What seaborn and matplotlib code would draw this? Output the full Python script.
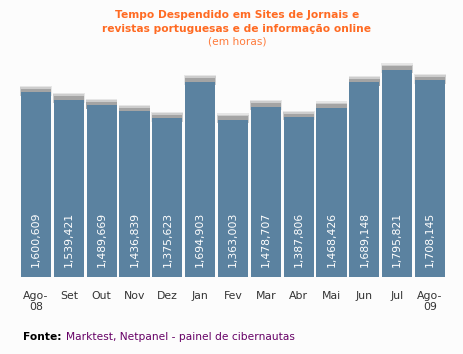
import matplotlib
matplotlib.use("Agg")
import matplotlib.pyplot as plt
import seaborn as sns
import pandas as pd
import numpy as np

# dados: tempo despendido (horas) por mes
meses = ["Ago-\n08", "Set", "Out", "Nov", "Dez", "Jan", "Fev", "Mar",
         "Abr", "Mai", "Jun", "Jul", "Ago-\n09"]
horas = [1600609, 1539421, 1489669, 1436839, 1375623, 1694903, 1363003,
         1478707, 1387806, 1468426, 1689148, 1795821, 1708145]

df = pd.DataFrame({"mes": meses, "horas": horas})

sns.set_style("white")
plt.rcParams['font.family'] = ['DejaVu Sans']

fig = plt.figure(figsize=(4.63, 3.54), dpi=100, facecolor="#fcfcfc")
ax = fig.add_axes([19.5 / 463, 77 / 354, 427 / 463, 217 / 354])
ax.set_facecolor("#fcfcfc")

# sombra cinzenta so no topo das barras (3 camadas, tipo degrade)
pos = np.arange(len(horas))
h = np.array(horas)
camadas = [(56000, "#e6e6e6", 0.965), (44000, "#cdcdcd", 0.945), (30000, "#a4a4a4", 0.925)]
for extra, cor, larg in camadas:
    ax.bar(pos, extra + 30000, bottom=h - 30000, width=larg, color=cor, linewidth=0)
sns.barplot(data=df, x="mes", y="horas", color="#5b82a0", width=0.92,
            saturation=1, linewidth=0, ax=ax, errorbar=None)

for i, v in enumerate(horas):
    ax.text(i, 10 * 8675, f"{v:,}", rotation=90, ha="center", va="bottom",
            color="white", fontsize=7.8)

ax.set_xlim(-0.5, len(meses) - 0.5)
ax.set_ylim(0, 1882000)
ax.set_xlabel("")
ax.set_ylabel("")
ax.set_yticks([])
ax.tick_params(axis="x", length=0, pad=10, labelsize=7.8, colors="#333333")
for s in ax.spines.values():
    s.set_visible(False)

fig.text(237 / 463, 1 - 15 / 354, "Tempo Despendido em Sites de Jornais e",
         ha="center", va="center", color="#ff6a22", fontsize=7.7, fontweight="bold")
fig.text(237 / 463, 1 - 28.5 / 354, "revistas portuguesas e de informação online",
         ha="center", va="center", color="#ff6a22", fontsize=7.7, fontweight="bold")
fig.text(237 / 463, 1 - 42 / 354, "(em horas)",
         ha="center", va="center", color="#ff7a3a", fontsize=7.7)

t = fig.text(23 / 463, 1 - 337 / 354, "Fonte:", ha="left", va="center",
             color="black", fontsize=7.7, fontweight="bold")
fig.canvas.draw()
bb = t.get_window_extent()
fig.text((bb.x1 + 4) / 463, 1 - 337 / 354, "Marktest, Netpanel - painel de cibernautas",
         ha="left", va="center", color="#660066", fontsize=7.7)

fig.savefig("out.png", dpi=100, facecolor=fig.get_facecolor())
